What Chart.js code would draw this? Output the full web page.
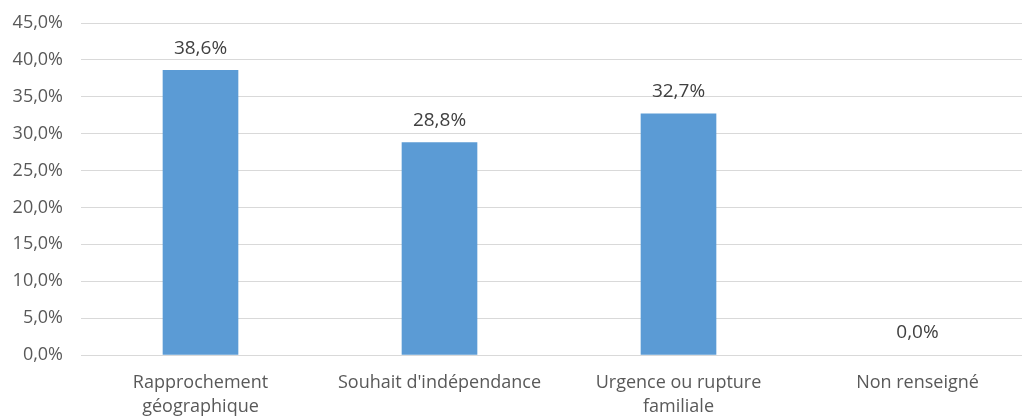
<!DOCTYPE html>
<html>
<head>
<meta charset="utf-8">
<script src="https://cdn.jsdelivr.net/npm/chart.js@4/dist/chart.umd.min.js"></script>
<style>
  html, body { margin: 0; padding: 0; background: #fff; overflow: hidden; }
  #wrap { width: 1037px; height: 418px; }
</style>
</head>
<body>
<div id="wrap"><canvas id="chart"></canvas></div>
<script>
const categories = [
  ["Rapprochement", "géographique"],
  "Souhait d'indépendance",
  ["Urgence ou rupture", "familiale"],
  "Non renseigné"
];
const values = [38.6, 28.8, 32.7, 0.0];
const yTicks = [0, 5, 10, 15, 20, 25, 30, 35, 40, 45];

const fmt = (v, d) => v.toFixed(d).replace(".", ",") + "%";

// draws the value above each bar
const valueLabels = {
  id: "valueLabels",
  afterDatasetsDraw(chart) {
    const ctx = chart.ctx;
    const meta = chart.getDatasetMeta(0);
    ctx.save();
    ctx.font = "19px 'Open Sans'";
    ctx.fillStyle = "#404040";
    ctx.textAlign = "center";
    ctx.textBaseline = "middle";
    meta.data.forEach((bar, i) => {
      ctx.fillText(fmt(values[i], 1), bar.x, bar.y - 22);
    });
    ctx.restore();
  }
};

new Chart(document.getElementById("chart"), {
  type: "bar",
  data: {
    labels: categories,
    datasets: [{
      data: values,
      backgroundColor: values.map(v => v > 0 ? "#5b9bd5" : "rgba(0,0,0,0)"),
      barThickness: 75
    }]
  },
  options: {
    responsive: true,
    maintainAspectRatio: false,
    animation: false,
    layout: { padding: { top: 23, left: 0, right: 0, bottom: 0 } },
    plugins: { legend: { display: false }, tooltip: { enabled: false } },
    scales: {
      x: {
        grid: { display: false, drawTicks: false },
        border: { display: false },
        ticks: {
          color: "#595959",
          font: { family: "'Open Sans'", size: 18, lineHeight: 1.33 },
          padding: 16,
          maxRotation: 0,
          autoSkip: false
        },
        afterFit(scale) { scale.height = 63; }
      },
      y: {
        min: 0,
        max: 45,
        grid: { color: "#d9d9d9", lineWidth: 1, drawTicks: false },
        border: { display: false },
        afterBuildTicks(scale) { scale.ticks = yTicks.map(v => ({ value: v })); },
        ticks: {
          color: "#595959",
          font: { family: "'Open Sans'", size: 18 },
          padding: 18,
          callback: v => fmt(v, 1)
        },
        afterFit(scale) {
          scale.width = 81;
          scale.paddingTop = 0;
          scale.paddingBottom = 0;
        }
      }
    }
  },
  plugins: [valueLabels]
});
</script>
</body>
</html>
